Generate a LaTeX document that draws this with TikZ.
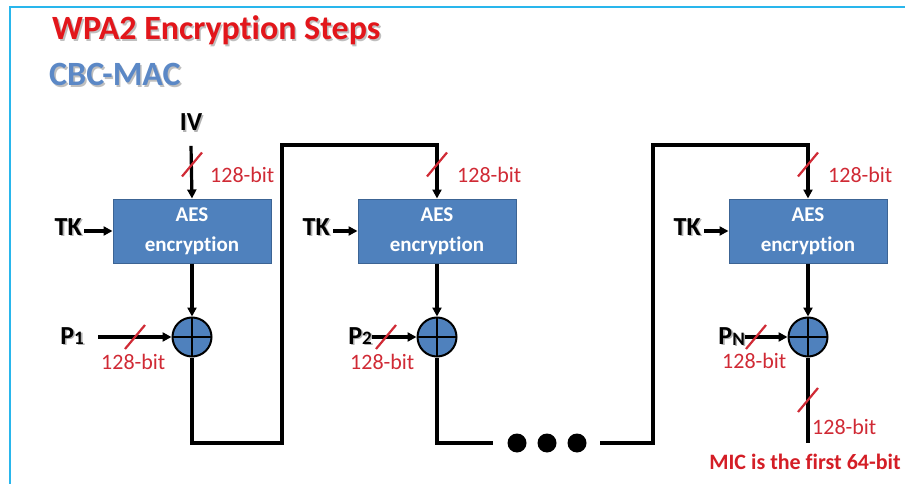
\documentclass[tikz,border=0pt]{standalone}
\usepackage{fontspec}
\setmainfont{Carlito}[Ligatures={NoCommon}]
\usetikzlibrary{arrows.meta,calc}
\definecolor{titlered}{HTML}{E2161B}
\definecolor{cbcblue}{HTML}{5B88C6}
\definecolor{aesfill}{HTML}{4F81BD}
\definecolor{aesdraw}{HTML}{3C6494}
\definecolor{bitred}{HTML}{D02A35}
\definecolor{micred}{HTML}{D41E26}
\definecolor{frameblue}{HTML}{29B6EC}
\newcommand{\shad}[2][black!30]{\rlap{\kern1.6pt\raisebox{-1.6pt}{\textcolor{#1}{#2}}}#2}
\newcommand{\slashat}[1]{\draw[slashmark] ($(#1)+(-10,12)$) -- ($(#1)+(10,-12)$);}
\begin{document}
\begin{tikzpicture}[x=1pt,y=-1pt,
  wire/.style={line width=3.2pt},
  arr/.style={wire,-{Triangle[length=9pt,width=9pt]}},
  aes/.style={draw=aesdraw, line width=1pt, fill=aesfill, minimum width=158pt,
    minimum height=64pt, inner sep=0pt, text=white,
    font=\fontsize{21}{30}\selectfont\bfseries, align=center},
  xor/.style={circle, draw=black, line width=2pt, fill=aesfill,
    minimum size=39pt, inner sep=0pt, path picture={
      \draw[line width=2pt] (path picture bounding box.north) -- (path picture bounding box.south);
      \draw[line width=2pt] (path picture bounding box.west) -- (path picture bounding box.east);}},
  bitlab/.style={text=bitred, font=\fontsize{22}{24}\selectfont, inner sep=0pt},
  slashmark/.style={draw=bitred, line width=2.2pt},
  lab/.style={font=\fontsize{26}{28}\selectfont\bfseries, inner sep=0pt},
  dot/.style={circle, fill=black, minimum size=19pt, inner sep=0pt},
]
\useasboundingbox (0,0) rectangle (905,484);
\draw[frameblue, line width=2pt] (10,484) -- (10,7) -- (905,7);

% titles
\node[anchor=base west, inner sep=0pt, text=titlered, font=\fontsize{34}{36}\selectfont\bfseries]
  (title) at (52,40) {\shad[black!25]{WPA2 Encryption Steps}};
\node[anchor=base west, inner sep=0pt, text=cbcblue, font=\fontsize{34}{36}\selectfont\bfseries]
  (sub) at (49,86) {\shad[black!25]{CBC-MAC}};

% AES blocks and XORs
\node[aes] (aes1) at (192,231) {AES\\encryption};
\node[aes] (aes2) at (437,231) {AES\\encryption};
\node[aes] (aes3) at (808,231) {AES\\encryption};
\node[xor] (xor1) at (192,337) {};
\node[xor] (xor2) at (437,337) {};
\node[xor] (xor3) at (808,337) {};

% IV
\node[lab, anchor=base] (iv) at (191,131) {\shad{IV}};
\draw[arr] ([yshift=-13pt]iv.south) -- (aes1.north);
\coordinate (s1) at ($(aes1.north)+(0,-34)$);
\slashat{s1}
\node[bitlab, anchor=west] (l1) at (210,175) {128-bit};

% TK inputs
\node[lab, anchor=base east] (tk1) at (82,235) {\shad{TK}};
\node[lab, anchor=base east] (tk2) at (330,235) {\shad{TK}};
\node[lab, anchor=base east] (tk3) at (701,235) {\shad{TK}};
\draw[arr] ([xshift=2pt]tk1.east |- aes1.west) -- (aes1.west);
\draw[arr] ([xshift=3pt]tk2.east |- aes2.west) -- (aes2.west);
\draw[arr] ([xshift=3pt]tk3.east |- aes3.west) -- (aes3.west);

% AES -> XOR
\draw[arr] (aes1.south) -- (xor1.north);
\draw[arr] (aes2.south) -- (xor2.north);
\draw[arr] (aes3.south) -- (xor3.north);

% plaintext inputs
\node[lab, anchor=base east] (p1) at (84,344) {\shad{P{\fontsize{19}{19}\selectfont 1}}};
\node[lab, anchor=base east] (p2) at (372,344) {\shad{P{\fontsize{19}{19}\selectfont 2}}};
\node[lab, anchor=base east] (pn) at (745,344) {\shad{P{\fontsize{19}{19}\selectfont\raisebox{-1pt}{N}}}};
\draw[arr] ([xshift=14pt]p1.east |- xor1.west) -- (xor1.west);
\draw[arr] (p2.east |- xor2.west) -- (xor2.west);
\draw[arr] (pn.east |- xor3.west) -- (xor3.west);
\coordinate (sp1) at (135,337);
\coordinate (sp2) at (386,337);
\coordinate (spn) at (756,337);
\slashat{sp1}
\slashat{sp2}
\slashat{spn}
\node[bitlab, anchor=west] (lp1) at (101,362) {128-bit};
\node[bitlab, anchor=west] (lp2) at (350,362) {128-bit};
\node[bitlab, anchor=west] (lpn) at (722,361) {128-bit};

% chaining 1 -> 2
\coordinate (c1b) at (282,443);
\coordinate (c1t) at (282,145);
\draw[arr] (xor1.south) |- (c1b) -- (c1t) -| (aes2.north);
\coordinate (s2) at ($(aes2.north)+(0,-34)$);
\slashat{s2}
\node[bitlab, anchor=west] (l2) at (457,175) {128-bit};

% chaining 2 -> ... -> N
\coordinate (d0) at (493,443);
\node[dot] (dot1) at (517,443) {};
\node[dot] (dot2) at (547,443) {};
\node[dot] (dot3) at (577,443) {};
\coordinate (d4) at (600,443);
\coordinate (c3b) at (653,443);
\coordinate (c3t) at (653,145);
\draw[wire] (xor2.south) |- (d0);
\draw[arr] (d4) -- (c3b) -- (c3t) -| (aes3.north);
\coordinate (s3) at ($(aes3.north)+(0,-34)$);
\slashat{s3}
\node[bitlab, anchor=west] (l3) at (828,175) {128-bit};

% output
\coordinate (out) at (808,443);
\draw[wire] (xor3.south) -- (out);
\coordinate (so) at (808,400);
\slashat{so}
\node[bitlab, anchor=west] (lo) at (812,427) {128-bit};
\node[anchor=base, inner sep=0pt, text=micred, font=\fontsize{22}{24}\selectfont\bfseries]
  (mic) at (805,469) {MIC is the first 64-bit};
\end{tikzpicture}
\end{document}
